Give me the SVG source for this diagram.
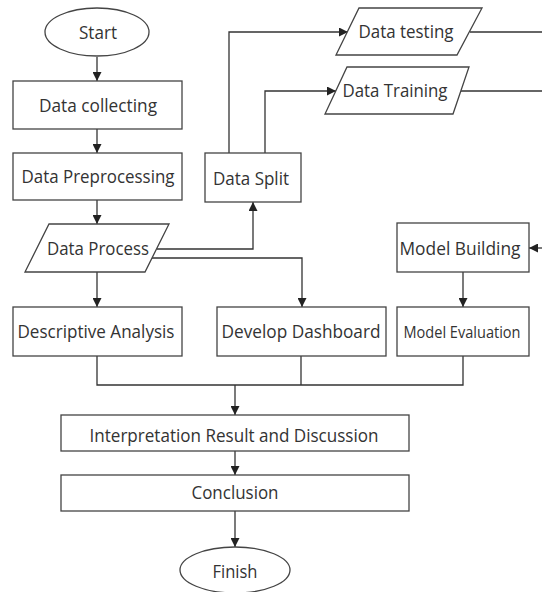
<svg xmlns="http://www.w3.org/2000/svg" width="542" height="592" viewBox="0 0 542 592">
<defs>
<marker id="ah" viewBox="0 0 10 10" refX="10" refY="5" markerWidth="9" markerHeight="9" markerUnits="userSpaceOnUse" orient="auto">
<path d="M0,0 L10,5 L0,10 z" fill="#222"/>
</marker>
<style>
.n{fill:#fff;stroke:#444;stroke-width:1.3}
.t{font-family:"Open Sans",sans-serif;font-size:18px;fill:#333;text-anchor:middle}
.s{font-size:16px}
.c{fill:none;stroke:#333;stroke-width:1.3}
.a{marker-end:url(#ah)}
</style>
</defs>
<rect width="542" height="592" fill="#fff"/>
<g id="connectors">
<path class="c a" d="M97,57 V81"/>
<path class="c a" d="M97,129 V153"/>
<path class="c a" d="M97,200 V224"/>
<path class="c a" d="M97,272 V307"/>
<path class="c a" d="M157,249 H253 V202"/>
<path class="c a" d="M152,258 H302 V307"/>
<path class="c a" d="M229,153 V32 H348"/>
<path class="c a" d="M265,153 V91 H336"/>
<path class="c" d="M470,32 H542"/>
<path class="c" d="M461,91 H542"/>
<path class="c a" d="M542,248 H529"/>
<path class="c a" d="M463,272 V307"/>
<path class="c" d="M97,356 V385 H463 V356"/>
<path class="c" d="M301,356 V385"/>
<path class="c a" d="M235,385 V415"/>
<path class="c a" d="M235,451 V475"/>
<path class="c a" d="M235,511 V547"/>
</g>
<g id="start"><ellipse class="n" cx="97" cy="32" rx="52" ry="24"/><text class="t" x="98" y="39" textLength="38" lengthAdjust="spacingAndGlyphs">Start</text></g>
<g id="collect"><rect class="n" x="13" y="81" width="169" height="48"/><text class="t" x="98" y="112" textLength="118" lengthAdjust="spacingAndGlyphs">Data collecting</text></g>
<g id="preproc"><rect class="n" x="13" y="153" width="169" height="47"/><text class="t" x="98" y="183" textLength="153" lengthAdjust="spacingAndGlyphs">Data Preprocessing</text></g>
<g id="split"><rect class="n" x="205" y="153" width="96" height="49"/><text class="t" x="251" y="185" textLength="76" lengthAdjust="spacingAndGlyphs">Data Split</text></g>
<g id="process"><polygon class="n" points="49,224 169,224 145,272 25,272"/><text class="t" x="98" y="255" textLength="102" lengthAdjust="spacingAndGlyphs">Data Process</text></g>
<g id="testing"><polygon class="n" points="359,8 482,8 457,55 336,55"/><text class="t" x="406" y="38" textLength="95" lengthAdjust="spacingAndGlyphs">Data testing</text></g>
<g id="training"><polygon class="n" points="347,67 469,67 453,114 325,114"/><text class="t" x="395" y="97" textLength="105" lengthAdjust="spacingAndGlyphs">Data Training</text></g>
<g id="descriptive"><rect class="n" x="13" y="307" width="169" height="49"/><text class="t" x="96" y="338" textLength="157" lengthAdjust="spacingAndGlyphs">Descriptive Analysis</text></g>
<g id="dashboard"><rect class="n" x="217" y="307" width="169" height="49"/><text class="t" x="301" y="338" textLength="159" lengthAdjust="spacingAndGlyphs">Develop Dashboard</text></g>
<g id="building"><rect class="n" x="397" y="223" width="132" height="49"/><text class="t" x="460" y="255" textLength="121" lengthAdjust="spacingAndGlyphs">Model Building</text></g>
<g id="evaluation"><rect class="n" x="397" y="307" width="132" height="49"/><text class="t s" x="462" y="338" textLength="117" lengthAdjust="spacingAndGlyphs">Model Evaluation</text></g>
<g id="interpretation"><rect class="n" x="61" y="415" width="348" height="36"/><text class="t" x="234" y="442" textLength="289" lengthAdjust="spacingAndGlyphs">Interpretation Result and Discussion</text></g>
<g id="conclusion"><rect class="n" x="61" y="475" width="348" height="36"/><text class="t" x="235" y="499" textLength="87" lengthAdjust="spacingAndGlyphs">Conclusion</text></g>
<g id="finish"><ellipse class="n" cx="235" cy="570" rx="55" ry="23"/><text class="t" x="235" y="578" textLength="45" lengthAdjust="spacingAndGlyphs">Finish</text></g>
</svg>
